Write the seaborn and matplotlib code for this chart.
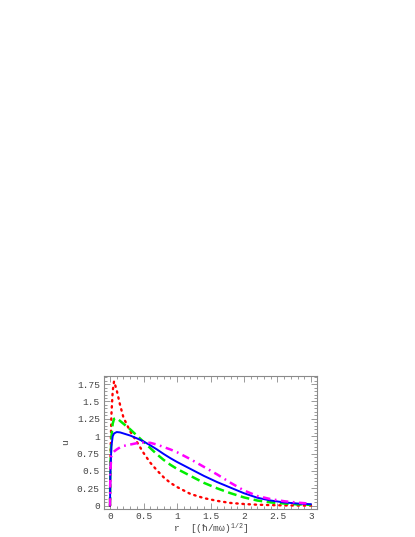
import numpy as np
import pandas as pd
import matplotlib
matplotlib.use("Agg")
import matplotlib.pyplot as plt
import seaborn as sns
from matplotlib.ticker import MultipleLocator, FuncFormatter

# radial grid (units of (hbar/m omega)^1/2) and curve values
r = [0, 0.005, 0.02, 0.04, 0.06, 0.1, 0.15, 0.2, 0.3, 0.4, 0.5, 0.6, 0.7, 0.8, 0.9,
     1.0, 1.2, 1.4, 1.6, 1.8, 2.0, 2.2, 2.4, 2.6, 2.8, 3.0]
u_red = [0, 0.6, 1.3, 1.65, 1.79, 1.66, 1.45, 1.27, 1.07, 0.92, 0.76, 0.62, 0.51, 0.41, 0.33,
         0.27, 0.17, 0.11, 0.07, 0.04, 0.025, 0.015, 0.009, 0.005, 0.003, 0.002]
u_green = [0, 0.55, 0.98, 1.18, 1.25, 1.26, 1.22, 1.18, 1.1, 1.01, 0.92, 0.83, 0.74, 0.66, 0.59,
           0.53, 0.43, 0.33, 0.25, 0.18, 0.12, 0.075, 0.048, 0.032, 0.02, 0.013]
u_blue = [0, 0.45, 0.85, 1.0, 1.04, 1.06, 1.055, 1.04, 1.01, 0.97, 0.925, 0.87, 0.81, 0.745, 0.685,
          0.63, 0.53, 0.43, 0.34, 0.26, 0.18, 0.115, 0.075, 0.048, 0.032, 0.022]
u_magenta = [0, 0.5, 0.72, 0.76, 0.78, 0.81, 0.84, 0.86, 0.88, 0.9, 0.91, 0.905, 0.88, 0.845, 0.81,
             0.77, 0.67, 0.56, 0.45, 0.33, 0.22, 0.14, 0.095, 0.065, 0.045, 0.03]

x_ticks = [0, 0.5, 1, 1.5, 2, 2.5, 3]
y_ticks = [0, 0.25, 0.5, 0.75, 1, 1.25, 1.5, 1.75]

sns.set_style("ticks")
plt.rcParams['font.family'] = ['Liberation Mono', 'DejaVu Sans Mono', 'DejaVu Sans']
plt.rcParams['mathtext.fontset'] = 'custom'
plt.rcParams['mathtext.rm'] = 'Liberation Mono'
plt.rcParams['mathtext.it'] = 'Liberation Mono'

fig = plt.figure(figsize=(4.15, 5.37), dpi=100)
ax = fig.add_axes([0.2506, 0.0521, 0.5133, 0.2477])

df = pd.DataFrame({'r': r, 'red': u_red, 'green': u_green, 'blue': u_blue, 'magenta': u_magenta})

sns.lineplot(data=df, x='r', y='red', ax=ax, color='#ff0000', linewidth=1.7,
             linestyle=(0, (0.6, 2.0)), dash_capstyle='round')
sns.lineplot(data=df, x='r', y='green', ax=ax, color='#00ee00', linewidth=1.8,
             linestyle=(0, (3.5, 1.8)))
sns.lineplot(data=df, x='r', y='blue', ax=ax, color='#0000ff', linewidth=1.4)
sns.lineplot(data=df, x='r', y='magenta', ax=ax, color='#ff00ff', linewidth=1.8,
             linestyle=(0, (3, 1.8, 0.7, 1.8)))

ax.set_xlim(-0.09, 3.09)
ax.set_ylim(-0.047, 1.866)
ax.set_xticks(x_ticks)
ax.set_yticks(y_ticks)
ax.xaxis.set_minor_locator(MultipleLocator(0.1))
ax.yaxis.set_minor_locator(MultipleLocator(0.05))


def fmt(v, pos):
    return f'{v:g}'


ax.xaxis.set_major_formatter(FuncFormatter(fmt))
ax.yaxis.set_major_formatter(FuncFormatter(fmt))

gray = '#8a8a8a'
for sp in ax.spines.values():
    sp.set_visible(True)
    sp.set_color(gray)
    sp.set_linewidth(0.8)
ax.tick_params(which='both', direction='in', top=True, right=True, color=gray,
               width=0.6, labelsize=6.8, labelcolor='#444444')
ax.tick_params(axis='x', pad=2.5)
ax.tick_params(axis='y', pad=3)
ax.tick_params(which='major', length=4)
ax.tick_params(which='minor', length=2)

ax.set_xlabel('r  [(ħ/mω)$^{1/2}$]', fontsize=6.8, color='#444444', labelpad=0)
ax.set_ylabel('u', fontsize=6.8, color='#444444', labelpad=5)
ax.grid(False)

fig.savefig('out.png', dpi=100, facecolor='white')
